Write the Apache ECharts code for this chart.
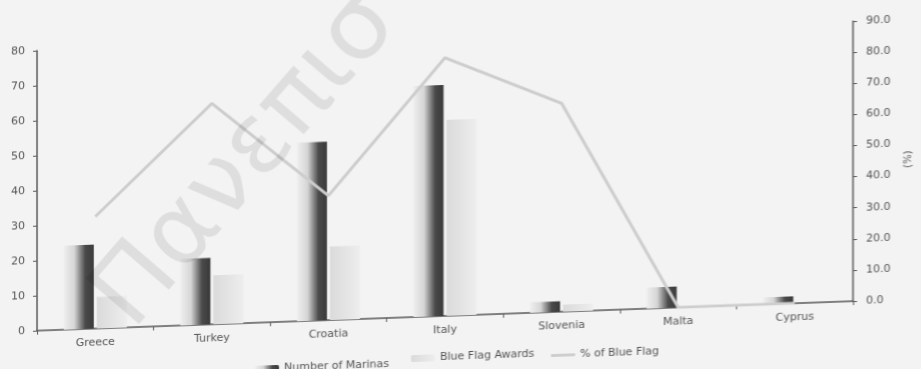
<!DOCTYPE html>
<html>
<head>
<meta charset="utf-8">
<script src="https://cdn.jsdelivr.net/npm/echarts@6/dist/echarts.min.js"></script>
<style>
html,body{margin:0;padding:0;background:#f3f3f3;overflow:hidden;width:921px;height:369px;}
#chart{width:921px;height:400px;transform:skewY(-2.07deg);transform-origin:0 0;}
</style>
</head>
<body>
<div id="chart"></div>
<script>
const categories = ['Greece', 'Turkey', 'Croatia', 'Italy', 'Slovenia', 'Malta', 'Cyprus'];
const marinas = [24, 19, 51, 66, 3, 6, 2];
const blueFlags = [9, 14, 21, 56, 2, 0, 0];
const pctBlueFlag = [36, 71, 40, 83, 67, 0, 0];
const seriesNames = ['Number of Marinas', 'Blue Flag Awards', '% of Blue Flag'];
const watermark = 'Πανεπιστήμιο Πειραιώς';

const chart = echarts.init(document.getElementById('chart'), null, {renderer: 'canvas'});
const txt = '#555555';
const axisCol = '#5a5a5a';
const font = '"DejaVu Sans", Verdana, sans-serif';

const darkGrad = new echarts.graphic.LinearGradient(0, 0, 1, 0, [
  {offset: 0, color: '#efefef'},
  {offset: 0.35, color: '#d6d6d6'},
  {offset: 0.55, color: '#8a8a8a'},
  {offset: 0.72, color: '#4a4a4a'},
  {offset: 1, color: '#3a3a3a'}
]);
const lightGrad = new echarts.graphic.LinearGradient(0, 0, 1, 0, [
  {offset: 0, color: '#dbdbdb'},
  {offset: 0.5, color: '#e4e4e4'},
  {offset: 1, color: '#eeeeee'}
]);
const lineIcon = 'path://M0,0 L100,0 L100,12 L0,12 Z';

function legendItem(name, left, top, icon) {
  return {
    data: [icon ? {name: name, icon: icon} : name],
    left: left, top: top,
    itemWidth: 24, itemHeight: 7,
    textStyle: {color: txt, fontSize: 11, fontFamily: font}
  };
}

chart.setOption({
  backgroundColor: '#f3f3f3',
  animation: false,
  textStyle: {fontFamily: font},
  graphic: [{
    type: 'text',
    x: 150, y: 352,
    rotation: 0.84,
    z: 100,
    silent: true,
    style: {
      text: watermark,
      font: '98px "DejaVu Sans", sans-serif',
      fill: 'rgba(0,0,0,0.085)',
      textVerticalAlign: 'bottom'
    }
  }],
  grid: {left: 37, right: 59, top: 52, height: 280, containLabel: false},
  legend: [
    legendItem(seriesNames[0], 250, 368),
    legendItem(seriesNames[1], 406, 363),
    legendItem(seriesNames[2], 546, 365, lineIcon)
  ],
  xAxis: {
    type: 'category',
    data: categories,
    boundaryGap: true,
    axisLine: {lineStyle: {color: axisCol, width: 1.5}},
    axisTick: {show: true, alignWithLabel: false, length: 4, lineStyle: {color: axisCol}},
    axisLabel: {color: txt, fontSize: 11, margin: 9},
    splitLine: {show: false}
  },
  yAxis: [{
    type: 'value', min: 0, max: 80, interval: 10,
    position: 'left',
    axisLine: {show: true, lineStyle: {color: axisCol, width: 1.5}},
    axisTick: {show: true, length: 4, lineStyle: {color: axisCol}},
    axisLabel: {color: txt, fontSize: 11, margin: 12},
    splitLine: {show: false}
  }, {
    type: 'value', min: 0, max: 90, interval: 10,
    position: 'right',
    name: '(%)', nameLocation: 'middle', nameGap: 50, nameRotate: 90,
    nameTextStyle: {color: txt, fontSize: 10},
    axisLine: {show: true, lineStyle: {color: axisCol, width: 1.5}},
    axisTick: {show: true, length: 4, lineStyle: {color: axisCol}},
    axisLabel: {color: txt, fontSize: 11, margin: 13, formatter: v => v.toFixed(1)},
    splitLine: {show: false}
  }],
  series: [{
    name: seriesNames[0], type: 'bar', yAxisIndex: 0,
    data: marinas, barWidth: 30, barGap: '10%',
    itemStyle: {color: darkGrad}
  }, {
    name: seriesNames[1], type: 'bar', yAxisIndex: 0,
    data: blueFlags, barWidth: 30,
    itemStyle: {color: lightGrad}
  }, {
    name: seriesNames[2], type: 'line', yAxisIndex: 1,
    data: pctBlueFlag, symbol: 'none',
    lineStyle: {color: '#cdcdcd', width: 3},
    itemStyle: {color: '#cdcdcd'}
  }]
});
</script>
</body>
</html>
